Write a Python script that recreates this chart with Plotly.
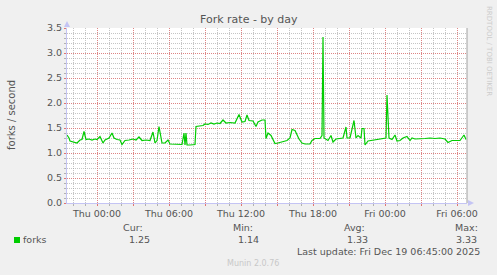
import plotly.graph_objects as go

# ---------------- data ----------------
times = [
    "2025-12-17 21:30", "2025-12-17 21:40", "2025-12-17 21:45", "2025-12-17 21:55",
    "2025-12-17 22:05", "2025-12-17 22:20", "2025-12-17 22:35", "2025-12-17 22:45",
    "2025-12-17 22:55", "2025-12-17 23:05", "2025-12-17 23:20", "2025-12-17 23:35",
    "2025-12-17 23:50", "2025-12-18 00:00", "2025-12-18 00:15", "2025-12-18 00:30",
    "2025-12-18 00:40", "2025-12-18 01:00", "2025-12-18 01:15", "2025-12-18 01:25",
    "2025-12-18 01:40", "2025-12-18 01:55", "2025-12-18 02:05", "2025-12-18 02:20",
    "2025-12-18 02:40", "2025-12-18 03:00", "2025-12-18 03:15", "2025-12-18 03:30",
    "2025-12-18 03:45", "2025-12-18 04:05", "2025-12-18 04:25", "2025-12-18 04:40",
    "2025-12-18 04:50", "2025-12-18 05:00", "2025-12-18 05:10", "2025-12-18 05:25",
    "2025-12-18 05:40", "2025-12-18 05:55", "2025-12-18 06:05", "2025-12-18 06:30",
    "2025-12-18 06:55", "2025-12-18 07:05", "2025-12-18 07:15", "2025-12-18 07:20",
    "2025-12-18 07:25", "2025-12-18 07:30", "2025-12-18 07:45", "2025-12-18 08:10",
    "2025-12-18 08:15", "2025-12-18 08:35", "2025-12-18 08:50", "2025-12-18 09:00",
    "2025-12-18 09:15", "2025-12-18 09:30", "2025-12-18 09:45", "2025-12-18 10:00",
    "2025-12-18 10:15", "2025-12-18 10:30", "2025-12-18 10:45", "2025-12-18 11:05",
    "2025-12-18 11:30", "2025-12-18 11:50", "2025-12-18 12:05", "2025-12-18 12:20",
    "2025-12-18 12:30", "2025-12-18 12:40", "2025-12-18 13:00", "2025-12-18 13:15",
    "2025-12-18 13:25", "2025-12-18 13:45", "2025-12-18 14:00", "2025-12-18 14:05",
    "2025-12-18 14:15", "2025-12-18 14:30", "2025-12-18 14:40", "2025-12-18 14:50",
    "2025-12-18 15:05", "2025-12-18 15:25", "2025-12-18 15:50", "2025-12-18 16:05",
    "2025-12-18 16:15", "2025-12-18 16:30", "2025-12-18 16:40", "2025-12-18 16:50",
    "2025-12-18 17:05", "2025-12-18 17:20", "2025-12-18 17:45", "2025-12-18 17:55",
    "2025-12-18 18:10", "2025-12-18 18:35", "2025-12-18 18:45", "2025-12-18 18:50",
    "2025-12-18 18:55", "2025-12-18 19:05", "2025-12-18 19:15", "2025-12-18 19:30",
    "2025-12-18 19:40", "2025-12-18 19:55", "2025-12-18 20:15", "2025-12-18 20:30",
    "2025-12-18 20:45", "2025-12-18 20:50", "2025-12-18 21:05", "2025-12-18 21:25",
    "2025-12-18 21:35", "2025-12-18 21:45", "2025-12-18 22:00", "2025-12-18 22:05",
    "2025-12-18 22:15", "2025-12-18 22:20", "2025-12-18 22:35", "2025-12-18 22:55",
    "2025-12-18 23:15", "2025-12-18 23:35", "2025-12-18 23:50", "2025-12-19 00:05",
    "2025-12-19 00:10", "2025-12-19 00:20", "2025-12-19 00:35", "2025-12-19 00:50",
    "2025-12-19 01:00", "2025-12-19 01:15", "2025-12-19 01:30", "2025-12-19 01:50",
    "2025-12-19 02:05", "2025-12-19 02:15", "2025-12-19 02:30", "2025-12-19 02:55",
    "2025-12-19 03:20", "2025-12-19 03:45", "2025-12-19 04:10", "2025-12-19 04:35",
    "2025-12-19 05:00", "2025-12-19 05:15", "2025-12-19 05:35", "2025-12-19 05:55",
    "2025-12-19 06:15", "2025-12-19 06:35", "2025-12-19 06:45",
]
forks = [
    1.36, 1.30, 1.24, 1.23, 1.22, 1.20, 1.26, 1.27,
    1.43, 1.27, 1.28, 1.26, 1.28, 1.27, 1.33, 1.20,
    1.26, 1.30, 1.40, 1.30, 1.27, 1.26, 1.17, 1.25,
    1.26, 1.28, 1.26, 1.32, 1.25, 1.26, 1.25, 1.42,
    1.20, 1.25, 1.53, 1.20, 1.20, 1.26, 1.18, 1.18,
    1.17, 1.17, 1.40, 1.16, 1.40, 1.16, 1.16, 1.17,
    1.53, 1.54, 1.55, 1.58, 1.57, 1.60, 1.58, 1.60,
    1.59, 1.66, 1.60, 1.61, 1.60, 1.77, 1.62, 1.63,
    1.76, 1.65, 1.64, 1.53, 1.62, 1.66, 1.66, 1.29,
    1.40, 1.35, 1.28, 1.19, 1.20, 1.22, 1.25, 1.30,
    1.47, 1.45, 1.35, 1.28, 1.20, 1.18, 1.18, 1.25,
    1.29, 1.29, 1.35, 3.32, 1.30, 1.27, 1.25, 1.35,
    1.22, 1.28, 1.29, 1.30, 1.52, 1.30, 1.30, 1.65,
    1.30, 1.35, 1.30, 1.49, 1.49, 1.16, 1.24, 1.25,
    1.27, 1.27, 1.28, 1.30, 2.16, 1.30, 1.27, 1.36,
    1.24, 1.25, 1.30, 1.33, 1.25, 1.30, 1.28, 1.28,
    1.29, 1.30, 1.29, 1.30, 1.28, 1.21, 1.25, 1.25,
    1.25, 1.36, 1.27,
]

x_tick_vals = ["2025-12-18 00:00", "2025-12-18 03:00", "2025-12-18 06:00", "2025-12-18 09:00",
               "2025-12-18 12:00", "2025-12-18 15:00", "2025-12-18 18:00", "2025-12-18 21:00",
               "2025-12-19 00:00", "2025-12-19 03:00", "2025-12-19 06:00"]
x_tick_text = ["Thu 00:00", "", "Thu 06:00", "", "Thu 12:00", "", "Thu 18:00", "",
               "Fri 00:00", "", "Fri 06:00"]
y_tick_vals = [0.0, 0.5, 1.0, 1.5, 2.0, 2.5, 3.0, 3.5]
y_tick_text = ["0.0", "0.5", "1.0", "1.5", "2.0", "2.5", "3.0", "3.5"]

series_name = "forks"
stat_names = ["Cur:", "Min:", "Avg:", "Max:"]
stat_values = ["1.25", "1.14", "1.33", "3.33"]
title_text = "Fork rate - by day"
y_title = "forks / second"
last_update = "Last update: Fri Dec 19 06:45:00 2025"
version_text = "Munin 2.0.76"
side_text = "RRDTOOL / TOBI OETIKER"

# ---------------- layout helpers ----------------
W, H = 497, 275
L, R, T, B = 67, 467, 28, 203
FONT = "DejaVu Sans"
TXT = "#555555"
LINE_GREEN = "#00CC00"
AXIS_BLUE = "#c4c4f4"


def px(x):
    return (x - L) / (R - L)


def py(y):
    return (B - y) / (B - T)


fig = go.Figure()
fig.add_trace(go.Scatter(x=times, y=forks, mode="lines", name=series_name,
                         line=dict(color=LINE_GREEN, width=1.2), hoverinfo="skip"))

fig.update_layout(
    width=W, height=H,
    margin=dict(l=L, r=W - R, t=T, b=H - B, pad=0),
    paper_bgcolor="#f0f0f0", plot_bgcolor="#ffffff",
    showlegend=False,
    font=dict(family=FONT, size=9, color=TXT),
    hovermode=False,
)

fig.update_xaxes(
    type="date",
    range=["2025-12-17 21:30", "2025-12-19 06:50"],
    tickmode="array", tickvals=x_tick_vals, ticktext=x_tick_text,
    showgrid=True, gridcolor="rgba(230,110,110,0.75)", griddash="1px,1px", gridwidth=1,
    ticks="outside", ticklen=2, tickcolor="rgba(230,110,110,0.9)",
    tickfont=dict(family=FONT, size=9.5, color=TXT),
    showline=True, linecolor=AXIS_BLUE, linewidth=1,
    zeroline=False,
    minor=dict(dtick=3600000, tick0="2025-12-17 22:00", showgrid=True,
               gridcolor="rgba(150,150,150,0.55)", griddash="1px,1px", gridwidth=1,
               ticks="outside", ticklen=2, tickcolor="rgba(150,150,150,0.7)"),
    fixedrange=True,
)

fig.update_yaxes(
    range=[0, 3.5],
    tickmode="array", tickvals=y_tick_vals, ticktext=y_tick_text,
    showgrid=True, gridcolor="rgba(230,110,110,0.75)", griddash="1px,1px", gridwidth=1,
    ticks="outside", ticklen=2, tickcolor="rgba(230,110,110,0.9)",
    tickfont=dict(family=FONT, size=9.5, color=TXT),
    showline=True, linecolor=AXIS_BLUE, linewidth=1,
    zeroline=False,
    minor=dict(dtick=0.1, showgrid=True,
               gridcolor="rgba(150,150,150,0.55)", griddash="1px,1px", gridwidth=1,
               ticks="outside", ticklen=2, tickcolor="rgba(150,150,150,0.7)"),
    fixedrange=True,
)

shapes = []
# right border
shapes.append(dict(type="line", xref="paper", yref="paper", x0=1, x1=1, y0=0, y1=1,
                   line=dict(color="#a0a0a0", width=1)))
# axis arrows
shapes.append(dict(type="path", xref="paper", yref="paper",
                   path=f"M {px(64)} {py(27)} L {px(70)} {py(27)} L {px(67)} {py(21)} Z",
                   fillcolor=AXIS_BLUE, line=dict(width=0)))
shapes.append(dict(type="path", xref="paper", yref="paper",
                   path=f"M {px(468)} {py(200)} L {px(468)} {py(206)} L {px(474)} {py(203)} Z",
                   fillcolor=AXIS_BLUE, line=dict(width=0)))
# legend swatch
shapes.append(dict(type="rect", xref="paper", yref="paper",
                   x0=px(14), x1=px(20), y0=py(243), y1=py(237),
                   fillcolor=LINE_GREEN, line=dict(width=0)))
fig.update_layout(shapes=shapes)

ann = []


def add_text(text, x, y, xanchor="center", size=9.5, color=TXT, angle=0):
    ann.append(dict(text=text, x=px(x), y=py(y), xref="paper", yref="paper",
                    xanchor=xanchor, yanchor="middle", showarrow=False,
                    textangle=angle, font=dict(family=FONT, size=size, color=color)))


add_text(title_text, 248.5, 19, size=11)
add_text(y_title, 11, 115, size=10, angle=-90)
add_text(side_text, 489, 51, size=7, color="#cccccc", angle=90)
add_text(series_name, 21, 239, xanchor="left")
header_centers = [133, 243, 354, 466.5]
value_rights = [152, 261, 370, 479]
for name, val, hc, vr in zip(stat_names, stat_values, header_centers, value_rights):
    add_text(name, hc, 227)
    add_text(val, vr, 239, xanchor="right")
add_text(last_update, 482, 251, xanchor="right")
add_text(version_text, 225, 263, xanchor="left", size=8, color="#c8c8c8")
fig.update_layout(annotations=ann)

fig.write_html("out.html", config={"displayModeBar": False})
